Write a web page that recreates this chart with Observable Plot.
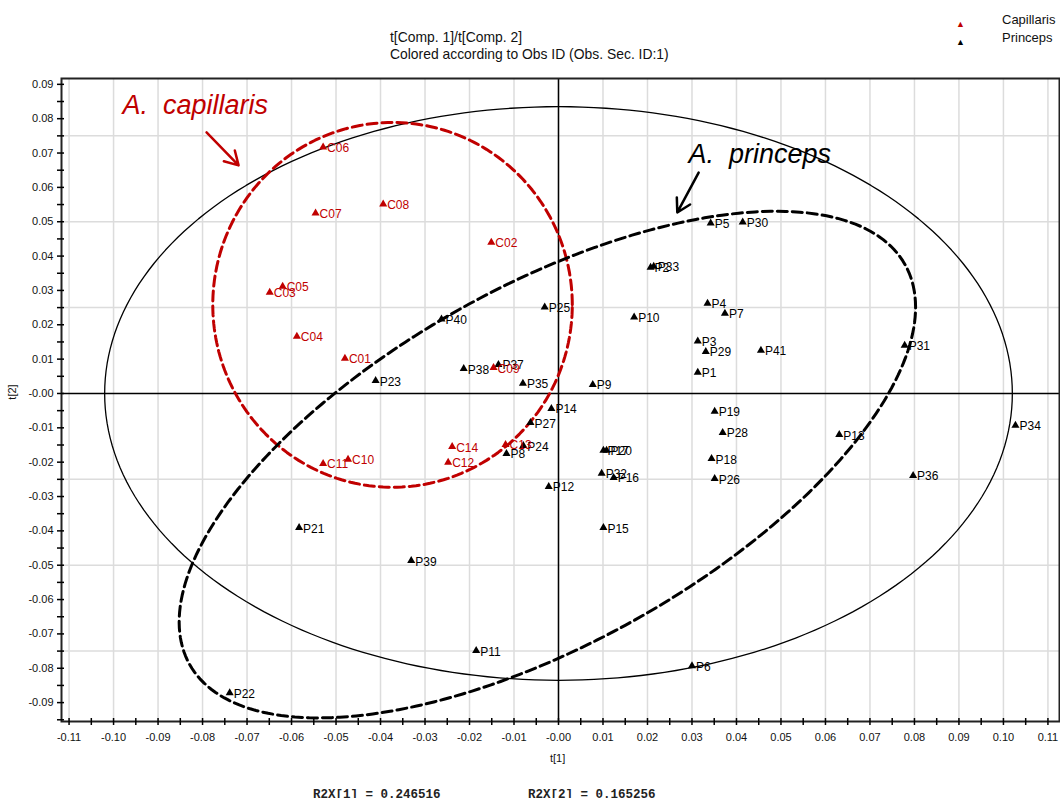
<!DOCTYPE html>
<html>
<head>
<meta charset="utf-8">
<script src="https://cdn.jsdelivr.net/npm/d3@7"></script>
<script src="https://cdn.jsdelivr.net/npm/@observablehq/plot@0.6"></script>
<style>
  body { margin: 0; background: #fff; }
  #wrap { position: relative; width: 1060px; height: 798px; overflow: hidden; font-family: "Liberation Sans", Arial, sans-serif; }
  #wrap svg { position: absolute; left: 0; top: 0; }
  .abs { position: absolute; white-space: nowrap; }
</style>
</head>
<body>
<div id="wrap"></div>
<script>
// ---- data ----
const capNames = ["C01","C02","C03","C04","C05","C06","C07","C08","C09","C10","C11","C12","C13","C14"];
const capX = [-0.0480,-0.0151,-0.0649,-0.0588,-0.0620,-0.0529,-0.0546,-0.0394,-0.0146,-0.0473,-0.0529,-0.0248,-0.0119,-0.0239];
const capY = [0.0102,0.0440,0.0294,0.0166,0.0312,0.0717,0.0525,0.0551,0.0075,-0.0192,-0.0204,-0.0201,-0.0149,-0.0155];

const priNames = ["P1","P2","P3","P4","P5","P6","P7","P8","P9","P10","P11","P12","P13","P14","P15","P16","P17","P18","P19","P20","P21","P22","P23","P24","P25","P26","P27","P28","P29","P30","P31","P32","P33","P34","P35","P36","P37","P38","P39","P40","P41"];
const priX = [0.0313,0.0207,0.0313,0.0335,0.0342,0.0300,0.0374,-0.0117,0.0077,0.0170,-0.0185,-0.0022,0.0631,-0.0016,0.0101,0.0124,0.0101,0.0344,0.0351,0.0108,-0.0583,-0.0739,-0.0411,-0.0079,-0.0031,0.0351,-0.0063,0.0369,0.0331,0.0414,0.0778,0.0097,0.0214,0.1027,-0.0080,0.0797,-0.0135,-0.0213,-0.0331,-0.0263,0.0455];
const priY = [0.0061,0.0367,0.0152,0.0262,0.0496,-0.0793,0.0233,-0.0175,0.0026,0.0222,-0.0749,-0.0271,-0.0120,-0.0044,-0.0391,-0.0245,-0.0166,-0.0190,-0.0052,-0.0166,-0.0391,-0.0872,0.0037,-0.0152,0.0251,-0.0248,-0.0085,-0.0114,0.0122,0.0499,0.0140,-0.0233,0.0370,-0.0093,0.0029,-0.0239,0.0084,0.0072,-0.0487,0.0216,0.0125];

// ellipses: center, first conjugate semi-axis vector, second conjugate semi-axis vector
const hotelling = {c: [0, 0], u: [0.1020, 0], v: [0, 0.0835]};
const capEllipse = {c: [-0.0373, 0.0258], u: [0.0404, 0], v: [0, 0.0531]};
const priEllipse = {c: [-0.0025, -0.0207], u: [0.0804, 0.0582], v: [-0.0196, 0.0453]};

const xTicks = d3.range(-11, 12).map(i => i / 100);
const xMinor = d3.range(-22, 23).map(i => i / 200);
const yTicks = d3.range(-9, 10).map(i => i / 100);
const yMinor = d3.range(-19, 19).map(i => i / 200);
const yGrid = [-0.075, -0.05, -0.025, 0.025, 0.05, 0.075];

const annotations = [
  {text: "A.  capillaris", x: -0.0980, y: 0.0815, color: "#c00000"},
  {text: "A.  princeps", x: 0.0292, y: 0.0672, color: "#000"}
];
const arrows = [
  {x1: -0.0791, y1: 0.0760, x2: -0.0719, y2: 0.0664, color: "#c00000"},
  {x1: 0.0315, y1: 0.0643, x2: 0.0267, y2: 0.0527, color: "#000"}
];

// ---- build ----
const cap = capNames.map((n, i) => ({name: n, x: capX[i], y: capY[i]}));
const pri = priNames.map((n, i) => ({name: n, x: priX[i], y: priY[i]}));
function ellipse(e) {
  return d3.range(0, 241).map(k => {
    const t = k / 240 * 2 * Math.PI;
    return {x: e.c[0] + Math.cos(t) * e.u[0] + Math.sin(t) * e.v[0],
            y: e.c[1] + Math.cos(t) * e.u[1] + Math.sin(t) * e.v[1]};
  });
}
const fmt = d => Math.abs(d) < 1e-9 ? "-0.00" : d.toFixed(2);
const red = "#c00000";

const chart = Plot.plot({
  width: 1060,
  height: 798,
  marginTop: 78,
  marginBottom: 77,
  marginLeft: 61,
  marginRight: 1,
  style: {fontFamily: "Liberation Sans, Arial, sans-serif", background: "transparent", overflow: "visible"},
  x: {domain: [-0.1117, 0.1126], label: null},
  y: {domain: [-0.0955, 0.0917], label: null},
  marks: [
    Plot.gridX(xTicks, {stroke: "#dcdcdc", strokeOpacity: 1, strokeWidth: 1.5}),
    Plot.gridY(yGrid, {stroke: "#dcdcdc", strokeOpacity: 1, strokeWidth: 1.5}),
    Plot.ruleX([0], {stroke: "#000", strokeWidth: 1.5}),
    Plot.ruleY([0], {stroke: "#000", strokeWidth: 1.5}),
    Plot.line(ellipse(hotelling), {x: "x", y: "y", stroke: "#000", strokeWidth: 1.3, clip: true}),
    Plot.line(ellipse(capEllipse), {x: "x", y: "y", stroke: red, strokeWidth: 3, strokeDasharray: "10,5", clip: true}),
    Plot.line(ellipse(priEllipse), {x: "x", y: "y", stroke: "#000", strokeWidth: 3, strokeDasharray: "10,5", clip: true}),
    Plot.dot(pri, {x: "x", y: "y", symbol: "triangle", r: 3, fill: "#000", stroke: "none"}),
    Plot.text(pri, {x: "x", y: "y", text: "name", dx: 4, dy: 1, textAnchor: "start", fontSize: 12, fill: "#000"}),
    Plot.dot(cap, {x: "x", y: "y", symbol: "triangle", r: 3, fill: red, stroke: "none"}),
    Plot.text(cap, {x: "x", y: "y", text: "name", dx: 4, dy: 1, textAnchor: "start", fontSize: 12, fill: red}),
    Plot.text(annotations, {x: "x", y: "y", text: "text", fill: "color", textAnchor: "start", lineAnchor: "bottom", fontSize: 27, fontStyle: "italic"}),
    Plot.arrow(arrows, {x1: "x1", y1: "y1", x2: "x2", y2: "y2", stroke: "color", strokeWidth: 2.5, headLength: 12}),
    Plot.frame({stroke: "#222", strokeWidth: 2}),
    Plot.axisX(xMinor, {tickSize: 7, dy: -3, text: null, stroke: "#000", strokeWidth: 1.5}),
    Plot.axisX(xTicks, {tickSize: 0, tickPadding: 12, tickFormat: fmt, fontSize: 11, fill: "#111", label: null}),
    Plot.axisY(yMinor, {tickSize: 7, dx: 3, text: null, stroke: "#000", strokeWidth: 1.5}),
    Plot.axisY(yTicks, {tickSize: 0, tickPadding: 8, tickFormat: fmt, fontSize: 11, fill: "#111", label: null})
  ]
});
const wrap = document.getElementById("wrap");
wrap.appendChild(chart);

function addDiv(html, css) {
  const d = document.createElement("div");
  d.className = "abs";
  d.innerHTML = html;
  Object.assign(d.style, css);
  wrap.appendChild(d);
  return d;
}
addDiv("t[Comp. 1]/t[Comp. 2]<br>Colored according to Obs ID (Obs. Sec. ID:1)",
  {left: "390px", top: "29px", fontSize: "13.9px", lineHeight: "17px", color: "#111"});
addDiv('<span style="color:#c00000;font-size:9px">&#9650;</span>',
  {left: "956px", top: "13px"});
addDiv('<span style="color:#000;font-size:9px">&#9650;</span>',
  {left: "956px", top: "31px"});
addDiv("Capillaris", {left: "1002px", top: "12px", fontSize: "13px", color: "#111"});
addDiv("Princeps", {left: "1002px", top: "30px", fontSize: "13px", color: "#111"});
addDiv("t[1]", {left: "550px", top: "752px", fontSize: "11px", color: "#111"});
addDiv("t[2]", {left: "4px", top: "386px", fontSize: "11px", color: "#111", transform: "rotate(-90deg)"});
addDiv("R2X[1] = 0.246516", {left: "313px", top: "788px", fontSize: "12.5px", fontFamily: "Liberation Mono, monospace", fontWeight: "bold", color: "#222"});
addDiv("R2X[2] = 0.165256", {left: "528px", top: "788px", fontSize: "12.5px", fontFamily: "Liberation Mono, monospace", fontWeight: "bold", color: "#222"});
</script>
</body>
</html>
